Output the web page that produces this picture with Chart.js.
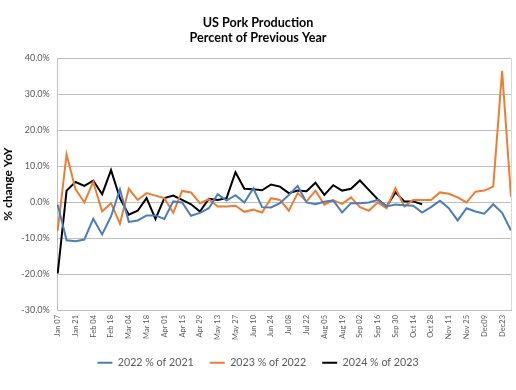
<!DOCTYPE html>
<html>
<head>
<meta charset="utf-8">
<script src="https://cdn.jsdelivr.net/npm/chart.js@4.4.1/dist/chart.umd.min.js"></script>
<style>
  html, body { margin: 0; padding: 0; background: #fff; }
  #wrap { width: 516px; height: 390px; position: relative; }
</style>
</head>
<body>
<div id="wrap"><canvas id="chart" width="516" height="390"></canvas></div>
<script>
// Weekly dates (week ending)
const weeks = [
  'Jan 07', 'Jan 14', 'Jan 21', 'Jan 28', 'Feb 04', 'Feb 11', 'Feb 18', 'Feb 25',
  'Mar 04', 'Mar 11', 'Mar 18', 'Mar 25', 'Apr 01', 'Apr 08', 'Apr 15', 'Apr 22',
  'Apr 29', 'May 06', 'May 13', 'May 20', 'May 27', 'Jun 03', 'Jun 10', 'Jun 17',
  'Jun 24', 'Jul 01', 'Jul 08', 'Jul 15', 'Jul 22', 'Jul 29', 'Aug 05', 'Aug 12',
  'Aug 19', 'Aug 26', 'Sep 02', 'Sep 09', 'Sep 16', 'Sep 23', 'Sep 30', 'Oct 07',
  'Oct 14', 'Oct 21', 'Oct 28', 'Nov 04', 'Nov 11', 'Nov 18', 'Nov 25', 'Dec02',
  'Dec09', 'Dec16', 'Dec23', 'Dec30'
];

// % change vs previous year
const pct2022 = [
  -0.7, -10.6, -10.9, -10.4, -4.6, -9.0, -4.0, 3.6, -5.5, -5.1, -3.7, -3.7,
  -4.7, 0.2, -0.1, -3.8, -3.0, -1.7, 2.2, 0.4, 1.9, -0.1, 3.8, -1.4,
  -1.5, -0.3, 2.0, 4.5, -0.1, -0.6, 0.1, 0.5, -2.9, -0.3, -0.3, -0.1,
  0.6, -1.2, -0.7, -0.9, -1.0, -2.9, -1.4, 0.4, -1.7, -5.1, -1.7, -2.6,
  -3.2, -0.6, -3.0, -7.9
];
const pct2023 = [
  -7.9, 13.3, 3.6, -0.1, 5.6, -2.6, -0.3, -6.0, 3.7, 0.6, 2.5, 1.8,
  1.1, -3.0, 3.1, 2.7, -0.3, 0.8, -1.2, -1.2, -1.0, -2.7, -2.1, -2.9,
  1.1, 0.6, -2.4, 2.5, 0.2, 3.2, -0.7, 0.5, -0.5, 1.3, -1.4, -2.4,
  -0.1, -1.7, 3.9, -1.2, 0.6, 0.6, 0.6, 2.7, 2.3, 1.3, -0.1, 2.9,
  3.2, 4.3, 36.5, 1.5
];
const pct2024 = [
  -19.8, 3.2, 5.6, 4.5, 6.0, 2.2, 8.9, 1.1, -3.5, -2.4, 1.1, -4.7,
  1.1, 1.8, 0.6, -0.6, -2.6, 0.9, 0.6, 1.1, 8.3, 3.7, 3.6, 3.3,
  4.9, 4.3, 2.5, 3.2, 3.0, 5.4, 2.0, 4.7, 3.2, 3.7, 6.0, 3.4,
  0.8, -1.2, 2.7, 0.2, 0.2, -0.6
];

const seriesNames = ['2022 % of 2021', '2023 % of 2022', '2024 % of 2023'];
const seriesColors = ['#4a7ebb', '#ed7d31', '#000000'];

const yTicks = { min: -30, max: 40, step: 10 };

// draws the right edge of the plot area like Excel does
const plotBorder = {
  id: 'plotBorder',
  afterDraw(chart) {
    const a = chart.chartArea;
    const ctx = chart.ctx;
    ctx.save();
    ctx.strokeStyle = '#d9d9d9';
    ctx.lineWidth = 1;
    ctx.beginPath();
    ctx.moveTo(Math.round(a.right) + 0.5, a.top);
    ctx.lineTo(Math.round(a.right) + 0.5, a.bottom);
    ctx.stroke();
    ctx.restore();
  }
};

Chart.defaults.font.family = 'Lato, "Open Sans", sans-serif';

const ctx = document.getElementById('chart').getContext('2d');
new Chart(ctx, {
  type: 'line',
  data: {
    labels: weeks,
    datasets: [pct2022, pct2023, pct2024].map(function(vals, i) {
      return {
        label: seriesNames[i],
        data: vals,
        borderColor: seriesColors[i],
        backgroundColor: seriesColors[i],
        borderWidth: 2,
        pointRadius: 0,
        tension: 0,
        fill: false
      };
    })
  },
  options: {
    responsive: false,
    animation: false,
    layout: { padding: { top: 0, left: 0, right: 0, bottom: 12 } },
    plugins: {
      title: {
        display: true,
        text: ['US Pork Production', 'Percent of Previous Year'],
        color: '#000',
        font: { size: 12.6, weight: 'bold' },
        padding: { top: 15, bottom: 13 },
        lineHeight: 1.27
      },
      legend: {
        position: 'bottom',
        labels: {
          color: '#595959',
          font: { size: 10.7 },
          boxWidth: 15,
          boxHeight: 2,
          padding: 16,
          generateLabels(chart) {
            return Chart.defaults.plugins.legend.labels.generateLabels(chart).map(function(l) {
              l.lineWidth = 0;
              return l;
            });
          }
        }
      },
      tooltip: { enabled: false }
    },
    scales: {
      x: {
        offset: false,
        afterFit: function(s) { s.height = 31.3; s.paddingRight = 5; },
        grid: { display: false, drawTicks: false },
        border: { display: true, color: '#bfbfbf' },
        ticks: {
          autoSkip: false,
          maxRotation: 90,
          minRotation: 90,
          color: '#595959',
          font: { size: 7.5 },
          padding: 5,
          callback: function(v, i) { return i % 2 === 0 ? weeks[i] : ''; }
        }
      },
      y: {
        min: yTicks.min,
        max: yTicks.max,
        afterFit: function(s) { s.width = 57.7; },
        grid: { color: '#bfbfbf', drawTicks: false },
        border: { display: true, color: '#bfbfbf' },
        ticks: {
          stepSize: yTicks.step,
          color: '#595959',
          font: { size: 9 },
          padding: 8,
          callback: function(v) { return v.toFixed(1) + '%'; }
        },
        title: {
          display: true,
          text: '% change YoY',
          color: '#000',
          font: { size: 12, weight: 'bold' },
          padding: { top: 1, bottom: 0 }
        }
      }
    }
  },
  plugins: [plotBorder]
});
</script>
</body>
</html>
